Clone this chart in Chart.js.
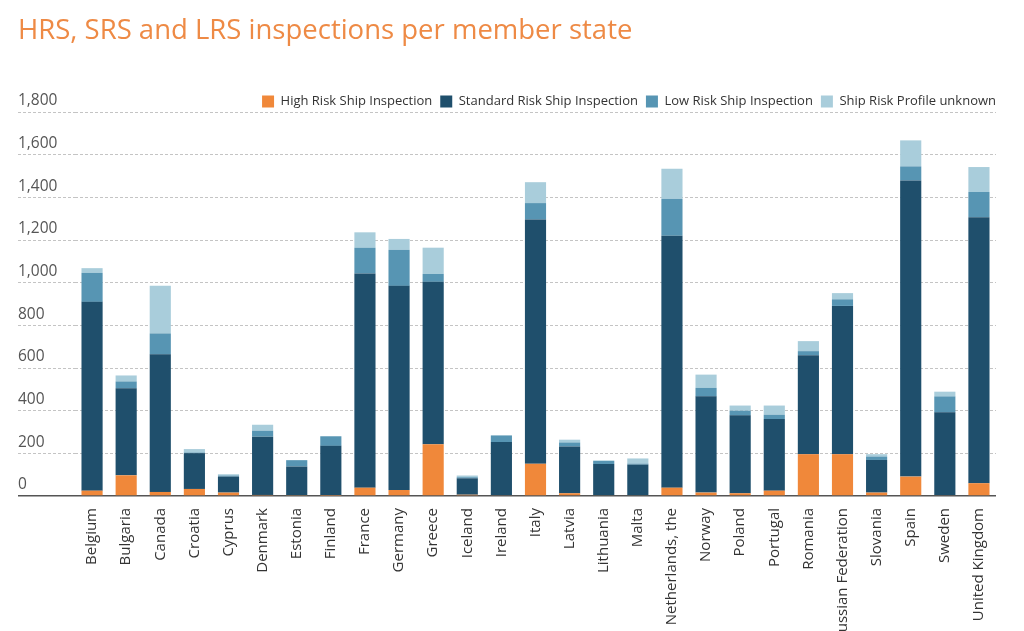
<!DOCTYPE html>
<html>
<head>
<meta charset="utf-8">
<script src="https://cdn.jsdelivr.net/npm/chart.js@4"></script>
<style>
  html, body { margin: 0; padding: 0; background: #fff; }
  #wrap { width: 1024px; height: 631px; position: relative; }
</style>
</head>
<body>
<div id="wrap"><canvas id="chart"></canvas></div>
<script>
/* inspections per member state */
const countries = ['Belgium', 'Bulgaria', 'Canada', 'Croatia', 'Cyprus', 'Denmark', 'Estonia', 'Finland',
  'France', 'Germany', 'Greece', 'Iceland', 'Ireland', 'Italy', 'Latvia', 'Lithuania', 'Malta',
  'Netherlands, the', 'Norway', 'Poland', 'Portugal', 'Romania', 'Russian Federation', 'Slovania',
  'Spain', 'Sweden', 'United Kingdom'];

const highRisk = [25, 97, 19, 33, 16, 5, 2, 1, 39, 28, 243, 6, 3, 151, 13, 3, 3, 39, 16, 13, 25, 196, 196, 16, 91, 3, 60];
const standardRisk = [885, 408, 645, 168, 75, 273, 136, 234, 1004, 957, 761, 77, 250, 1145, 219, 147, 144, 1181, 451, 365, 336, 464, 695, 153, 1388, 389, 1247];
const lowRisk = [136, 32, 98, 3, 5, 28, 30, 45, 121, 169, 37, 5, 31, 77, 19, 14, 5, 173, 40, 22, 20, 19, 31, 16, 66, 75, 118];
const unknownRisk = [22, 28, 223, 16, 6, 28, 0, 0, 72, 51, 123, 8, 0, 98, 13, 3, 24, 141, 62, 24, 43, 47, 29, 11, 122, 22, 117];

const seriesNames = ['High Risk Ship Inspection', 'Standard Risk Ship Inspection', 'Low Risk Ship Inspection', 'Ship Risk Profile unknown'];
const yTicks = { min: 0, max: 1800, step: 200 };

const colors = ['#f0883a', '#1f4f6c', '#5795b3', '#a9cddb'];

// build datasets
const seriesData = [highRisk, standardRisk, lowRisk, unknownRisk];
const datasets = seriesData.map((d, i) => ({
  label: seriesNames[i],
  data: d,
  backgroundColor: colors[i],
  borderWidth: 0,
  barPercentage: 0.62,
  categoryPercentage: 1.0
}));

const isZero = (ctx) => ctx.tick && ctx.tick.value === 0;

// nudge the legend row down a little, closer to the top gridline
const legendNudge = {
  id: 'legendNudge',
  afterLayout(chart) {
    chart.legend.top += 6;
    chart.legend.bottom += 6;
  }
};

new Chart(document.getElementById('chart'), {
  type: 'bar',
  data: { labels: countries, datasets: datasets },
  plugins: [legendNudge],
  options: {
    responsive: true,
    maintainAspectRatio: false,
    animation: false,
    layout: { padding: { left: 18, right: 20, top: 0, bottom: 0 } },
    plugins: {
      title: {
        display: true,
        text: 'HRS, SRS and LRS inspections per member state',
        align: 'start',
        color: '#ee8a45',
        font: { family: 'Open Sans', size: 27.5, weight: 'normal' },
        padding: { top: 15, bottom: 33 }
      },
      legend: {
        position: 'top',
        align: 'end',
        labels: {
          boxWidth: 12,
          boxHeight: 12,
          padding: 8,
          color: '#333',
          font: { family: 'Open Sans', size: 13 }
        }
      },
      tooltip: { enabled: false }
    },
    scales: {
      x: {
        stacked: true,
        grid: { display: false },
        border: { display: false },
        ticks: {
          color: '#333',
          font: { family: 'Open Sans', size: 15 },
          minRotation: 90,
          maxRotation: 90,
          autoSkip: false,
          padding: 4
        },
        afterFit: (scale) => { scale.height = 135; }
      },
      y: {
        stacked: true,
        min: yTicks.min,
        max: yTicks.max,
        grid: {
          color: (ctx) => isZero(ctx) ? '#555' : '#c4c4c4',
          lineWidth: (ctx) => isZero(ctx) ? 1.5 : 1,
          tickColor: (ctx) => isZero(ctx) ? '#555' : '#c4c4c4',
          tickWidth: (ctx) => isZero(ctx) ? 1.5 : 1,
          tickBorderDash: (ctx) => isZero(ctx) ? [] : [3, 2],
          tickLength: 57,
          drawTicks: true
        },
        border: {
          display: false,
          dash: (ctx) => isZero(ctx) ? [] : [3, 2]
        },
        ticks: {
          stepSize: yTicks.step,
          color: '#555',
          font: { family: 'Open Sans', size: 15.5 },
          crossAlign: 'far',
          labelOffset: -11
        },
        afterFit: (scale) => { scale.width = 57; }
      },
      // empty spacer on the right so the legend can reach further than the plot
      spacer: {
        position: 'right',
        display: true,
        grid: { display: false },
        border: { display: false },
        ticks: { display: false },
        afterFit: (scale) => { scale.width = 8; }
      }
    }
  }
});
</script>
</body>
</html>
